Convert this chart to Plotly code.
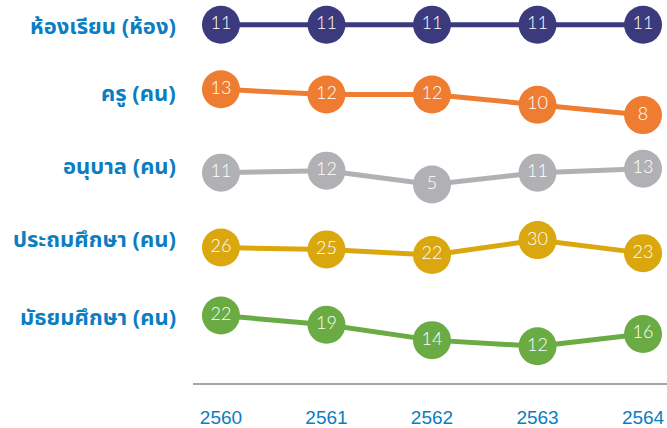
import plotly.graph_objects as go

years = ["2560", "2561", "2562", "2563", "2564"]
labels = ["ห้องเรียน (ห้อง)", "ครู (คน)", "อนุบาล (คน)", "ประถมศึกษา (คน)", "มัธยมศึกษา (คน)"]
rooms = [11, 11, 11, 11, 11]
teachers = [13, 12, 12, 10, 8]
kinder = [11, 12, 5, 11, 13]
primary = [26, 25, 22, 30, 23]
secondary = [22, 19, 14, 12, 16]

series = [rooms, teachers, kinder, primary, secondary]
colors = ["#3b3a7d", "#ee7d31", "#b1b1b5", "#dba70e", "#6aab43"]

# layout per row: pixel band (top, bottom), anchor value, its pixel, px per unit, label pixel
H = 386
rows = [
    ((0, 60), 11, 25, 10.0, 25),
    ((60, 135), 13, 90, 5.2, 93),
    ((135, 210), 13, 170, 2.0, 166),
    ((210, 285), 30, 242, 1.875, 240),
    ((285, 386), 22, 318, 3.1, 318),
]

fig = go.Figure()
x_idx = list(range(len(years)))

for i, (vals, col) in enumerate(zip(series, colors)):
    yname = "y" if i == 0 else f"y{i+1}"
    fig.add_trace(go.Scatter(
        x=x_idx, y=vals, xaxis="x", yaxis=yname,
        mode="lines+markers+text",
        line=dict(color=col, width=5),
        marker=dict(size=38, color=col),
        text=[str(v) for v in vals],
        textposition="middle center",
        textfont=dict(family="Lato", size=18, color="white", weight=300),
        cliponaxis=False, showlegend=False, hoverinfo="skip",
    ))

for i, ((ptop, pbot), v0, p0, s, lp) in enumerate(rows):
    ymax = v0 + (p0 - ptop) / s
    ymin = v0 - (pbot - p0) / s
    key = "yaxis" if i == 0 else f"yaxis{i+1}"
    fig.layout[key] = dict(
        domain=[1 - pbot / H, 1 - ptop / H], range=[ymin, ymax],
        anchor="x", visible=False, fixedrange=True,
    )
    fig.add_annotation(
        text=labels[i], xref="paper", yref="paper",
        x=-0.032, y=1 - lp / H,
        xanchor="right", yanchor="middle", showarrow=False,
        font=dict(family="Noto Sans, Noto Sans Thai, sans-serif", size=22, color="#0b7dc1", weight="bold"),
    )

fig.update_layout(
    width=667, height=428,
    margin=dict(l=193, r=0, t=0, b=42),
    paper_bgcolor="white", plot_bgcolor="white",
    xaxis=dict(
        anchor="y5", range=[-0.265, 4.227],
        tickmode="array", tickvals=x_idx, ticktext=years,
        showline=True, linecolor="#a6a6a6", linewidth=2,
        showgrid=False, zeroline=False,
        ticks="outside", ticklen=16, tickcolor="rgba(0,0,0,0)",
        tickfont=dict(family="Liberation Sans, Arial", size=19, color="#0b7dc1"),
    ),
)

fig.write_html("out.html", config={"displayModeBar": False},
               post_script="document.body.style.margin='0';")
